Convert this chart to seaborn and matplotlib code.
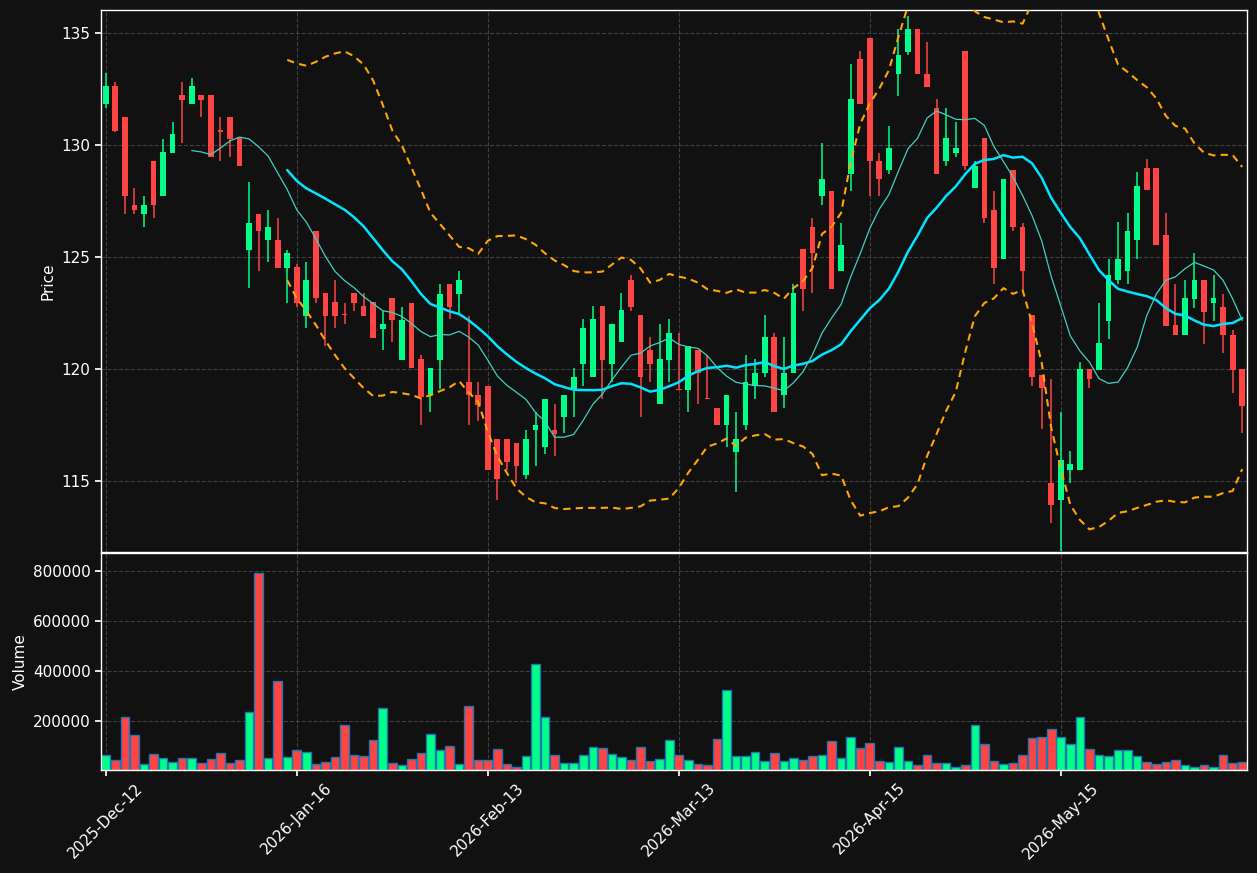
import numpy as np
import pandas as pd
import matplotlib
matplotlib.use("Agg")
import matplotlib.pyplot as plt
import seaborn as sns

# ---------------- data ----------------
opens = [131.85, 132.63, 131.27, 127.33, 126.91, 129.30, 127.73, 129.66, 132.23, 131.85,
         132.23, 132.23, 130.65, 131.27, 130.30, 125.33, 126.93, 125.75, 125.78, 124.53,
         124.56, 122.38, 126.18, 123.38, 122.98, 122.42, 123.38, 122.80, 122.98, 121.78,
         123.18, 120.41, 122.96, 120.43, 118.86, 120.41, 123.80, 123.36, 119.41, 118.84,
         119.26, 116.86, 116.86, 116.71, 115.29, 117.26, 116.53, 117.28, 117.84, 119.08,
         120.23, 119.63, 122.80, 120.23, 121.21, 123.98, 122.40, 120.83, 118.44, 120.41,
         119.12, 119.06, 120.83, 118.70, 118.28, 117.48, 116.29, 117.48, 119.23, 119.83,
         121.41, 118.86, 119.83, 125.35, 126.35, 127.73, 127.93, 124.36, 128.70, 133.85,
         134.78, 129.30, 128.88, 133.18, 134.16, 135.18, 133.18, 131.65, 129.28, 129.66,
         134.20, 128.08, 130.30, 127.11, 124.93, 128.90, 126.35, 122.40, 119.74, 114.93,
         114.14, 115.51, 115.51, 119.99, 119.97, 122.16, 123.96, 124.36, 125.75, 128.99,
         128.99, 126.00, 121.96, 121.52, 123.14, 123.98, 122.96, 122.76, 121.54, 119.99]
highs = [133.20, 132.83, 131.27, 128.08, 127.73, 129.30, 130.28, 131.03, 132.83, 133.00,
         132.23, 132.23, 131.25, 131.27, 130.30, 128.33, 126.93, 127.08, 126.73, 125.33,
         124.71, 124.78, 126.18, 123.38, 123.98, 122.96, 123.38, 123.38, 122.98, 122.60,
         123.18, 122.78, 122.96, 120.63, 120.06, 123.78, 123.80, 124.36, 122.38, 119.41,
         119.26, 116.86, 116.86, 116.71, 117.26, 118.08, 118.66, 118.46, 118.86, 120.06,
         122.23, 122.80, 122.80, 122.01, 123.38, 124.18, 122.40, 121.41, 122.01, 122.23,
         121.63, 121.03, 120.83, 120.63, 118.28, 118.86, 118.08, 120.63, 120.43, 122.40,
         121.61, 121.41, 123.78, 125.35, 126.73, 130.08, 127.93, 126.51, 133.60, 134.18,
         134.78, 129.66, 130.85, 135.20, 135.78, 135.18, 134.58, 132.05, 131.65, 131.05,
         134.20, 129.28, 130.30, 127.93, 128.50, 128.90, 126.51, 122.40, 119.74, 119.55,
         118.10, 116.33, 120.32, 119.99, 122.96, 124.93, 126.57, 126.95, 128.79, 129.37,
         128.99, 126.95, 123.78, 123.98, 125.18, 123.98, 124.18, 123.36, 121.74, 119.99]
lows = [131.65, 130.60, 126.93, 126.93, 126.35, 126.73, 127.73, 129.66, 130.08, 131.85,
        131.27, 129.46, 129.30, 129.48, 129.06, 123.60, 124.38, 124.78, 124.53, 122.96,
        122.78, 121.81, 122.96, 121.03, 121.81, 122.00, 122.60, 122.38, 121.39, 120.83,
        121.21, 120.41, 120.06, 117.48, 118.08, 119.10, 122.23, 122.52, 117.48, 117.68,
        115.51, 114.14, 115.51, 114.93, 115.11, 115.69, 116.20, 116.13, 117.13, 117.84,
        119.26, 119.63, 118.66, 119.41, 121.21, 122.60, 117.84, 119.41, 118.44, 119.41,
        119.06, 118.08, 118.46, 118.66, 117.48, 116.53, 114.53, 117.26, 118.66, 119.63,
        118.08, 118.28, 119.83, 122.60, 123.38, 127.33, 123.58, 124.36, 127.93, 131.85,
        127.73, 127.73, 128.72, 132.21, 134.02, 133.18, 132.61, 128.70, 129.08, 129.48,
        128.88, 128.08, 126.51, 123.78, 124.93, 126.15, 123.58, 119.26, 117.31, 113.12,
        111.89, 114.93, 115.51, 119.17, 119.97, 121.36, 123.78, 123.78, 124.93, 128.00,
        125.55, 121.94, 121.52, 121.52, 122.74, 121.12, 122.16, 120.72, 118.95, 117.15]
closes = [132.63, 130.63, 127.73, 127.08, 127.33, 127.31, 129.68, 130.48, 132.03, 132.63,
          132.03, 129.46, 130.60, 130.28, 129.06, 126.51, 126.15, 126.35, 124.53, 125.18,
          122.96, 123.98, 123.18, 122.38, 122.38, 122.40, 122.96, 122.38, 121.39, 122.00,
          122.21, 122.21, 120.06, 118.77, 120.06, 123.36, 122.78, 123.98, 118.86, 118.41,
          115.51, 115.11, 115.87, 115.69, 116.86, 117.51, 118.66, 117.08, 118.86, 119.66,
          121.83, 122.23, 120.41, 122.01, 122.63, 122.78, 119.63, 120.23, 120.43, 121.61,
          119.06, 121.03, 119.83, 118.66, 117.48, 118.86, 116.88, 119.41, 119.83, 121.41,
          118.08, 119.83, 123.38, 123.58, 125.16, 128.50, 123.58, 125.53, 132.05, 131.85,
          129.28, 128.48, 129.88, 134.02, 135.18, 133.18, 132.61, 128.70, 130.30, 129.88,
          129.08, 129.08, 126.73, 124.53, 128.50, 126.33, 124.36, 119.63, 119.15, 113.91,
          115.93, 115.75, 119.99, 119.55, 121.14, 124.18, 124.93, 126.15, 128.19, 128.00,
          125.55, 121.94, 121.52, 123.16, 123.98, 122.56, 123.16, 121.52, 119.97, 118.35]
volumes = [64000, 44000, 216000, 144000, 28000, 68000, 52000, 36000, 52000, 52000,
           33000, 48000, 72000, 33000, 44000, 236000, 792000, 52000, 360000, 56000,
           84000, 76000, 28000, 36000, 56000, 184000, 64000, 60000, 124000, 252000,
           31000, 23000, 47000, 71000, 150000, 85000, 99000, 30000, 259000, 44000,
           46000, 87000, 30000, 16000, 59000, 428000, 218000, 63000, 34000, 34000,
           63000, 95000, 91000, 69000, 55000, 46000, 95000, 40000, 48000, 123000,
           65000, 46000, 30000, 26000, 127000, 323000, 61000, 59000, 75000, 40000,
           71000, 40000, 51000, 44000, 59000, 65000, 119000, 51000, 137000, 93000,
           111000, 42000, 38000, 95000, 42000, 26000, 65000, 34000, 34000, 18000,
           26000, 184000, 107000, 40000, 30000, 34000, 63000, 131000, 135000, 170000,
           135000, 107000, 218000, 87000, 65000, 61000, 83000, 83000, 59000, 38000,
           30000, 38000, 46000, 26000, 18000, 26000, 18000, 63000, 34000, 38000]
tick_labels = ["2025-Dec-12", "2026-Jan-16", "2026-Feb-13", "2026-Mar-13",
               "2026-Apr-15", "2026-May-15"]

# ---------------- style ----------------
BG = "#111111"
UP = "#00ff88"
DOWN = "#ff4444"
sns.set_theme(style="dark", rc={
    "figure.facecolor": BG, "axes.facecolor": BG, "axes.edgecolor": "white",
    "text.color": "white", "axes.labelcolor": "white",
    "xtick.color": "white", "ytick.color": "white",
})
plt.rcParams["font.family"] = ["DejaVu Sans"]

df = pd.DataFrame({"open": opens, "high": highs, "low": lows,
                   "close": closes, "volume": volumes})
n = len(df)
df["idx"] = np.arange(n)
df["dir"] = np.where(df["close"] >= df["open"], "up", "down")
df["ma10"] = df["close"].rolling(10).mean()
df["ma20"] = df["close"].rolling(20).mean()
std20 = df["close"].rolling(20).std(ddof=0)
df["bb_up"] = df["ma20"] + 2 * std20
df["bb_lo"] = df["ma20"] - 2 * std20

W, H = 1257, 873
fig = plt.figure(figsize=(W / 100, H / 100), dpi=100, facecolor=BG)
ax1 = fig.add_axes([101 / W, 1 - 552 / H, 1146 / W, 542 / H])
ax2 = fig.add_axes([101 / W, 1 - 770 / H, 1146 / W, 217 / H], sharex=ax1)

colors = [UP if d == "up" else DOWN for d in df["dir"]]

# candles
ax1.vlines(df["idx"], df["low"], df["high"], colors=colors, linewidth=1.1, zorder=3)
body_bottom = np.minimum(df["open"], df["close"])
body_h = np.maximum(np.abs(df["close"] - df["open"]), 0.06)
ax1.bar(df["idx"], body_h, bottom=body_bottom, width=0.6, color=colors,
        linewidth=0, zorder=4)

# indicators
sns.lineplot(data=df, x="idx", y="ma20", ax=ax1, color="#00e5ff", linewidth=1.8, zorder=5)
sns.lineplot(data=df, x="idx", y="ma10", ax=ax1, color="#40d0c0", linewidth=0.9, zorder=5)
sns.lineplot(data=df, x="idx", y="bb_up", ax=ax1, color="#ffa500", linewidth=1.5,
             linestyle=(0, (3.5, 2.5)), zorder=5)
sns.lineplot(data=df, x="idx", y="bb_lo", ax=ax1, color="#ffa500", linewidth=1.5,
             linestyle=(0, (3.5, 2.5)), zorder=5)

# volume
sns.barplot(data=df, x="idx", y="volume", hue="dir", palette={"up": UP, "down": DOWN},
            native_scale=True, dodge=False, width=0.9, legend=False, ax=ax2,
            edgecolor="#1f77b4", linewidth=1.0, saturation=1)

ax1.set_xlim(-0.5, n - 0.5)
ax1.set_ylim(111.83, 136.03)
ax2.set_ylim(4000, 872000)

ticks = list(range(0, n, 20))
ax2.set_xticks(ticks)
ax2.set_xticklabels(tick_labels[:len(ticks)], rotation=45, ha="center", fontsize=11)
ax1.tick_params(axis="x", labelbottom=False, bottom=False)
ax1.set_yticks([115, 120, 125, 130, 135])
ax2.set_yticks([200000, 400000, 600000, 800000])
ax2.set_yticklabels(["200000", "400000", "600000", "800000"])

for ax in (ax1, ax2):
    ax.set_facecolor(BG)
    ax.grid(True, color="#555555", linestyle="--", linewidth=0.8, alpha=0.7)
    ax.set_axisbelow(True)
    for s in ax.spines.values():
        s.set_color("white")
        s.set_linewidth(1.0)
    ax.tick_params(axis="y", labelsize=11, colors="white", length=4, left=True)
    ax.tick_params(axis="x", colors="white", length=4)
ax2.tick_params(axis="x", bottom=True)

ax1.set_xlabel("")
ax2.set_xlabel("")
ax1.set_ylabel("Price", fontsize=11, color="white")
ax2.set_ylabel("Volume", fontsize=11, color="white")
ax1.yaxis.set_label_coords(-0.040, 0.5)
ax2.yaxis.set_label_coords(-0.064, 0.5)

fig.savefig("out.png", dpi=100, facecolor=BG)
